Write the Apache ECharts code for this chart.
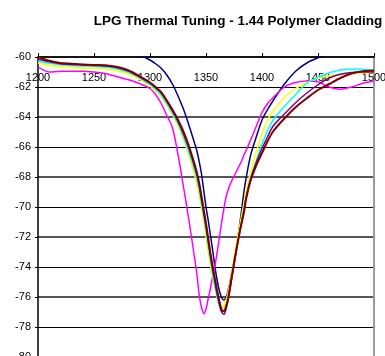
<!DOCTYPE html>
<html>
<head>
<meta charset="utf-8">
<script src="https://cdn.jsdelivr.net/npm/echarts@6/dist/echarts.min.js"></script>
<style>
html,body{margin:0;padding:0;background:#fff;}
#c{width:385px;height:356px;}
</style>
</head>
<body>
<div id="c"></div>
<script>
const title = "LPG Thermal Tuning - 1.44 Polymer Cladding";
const wavelengths = [1200,1210,1220,1230,1240,1250,1260,1270,1280,1290,1300,1305,1310,1315,1320,1325,1330,1335,1340,1342,1344,1346,1348,1350,1352,1354,1356,1358,1360,1362,1364,1366,1368,1370,1372,1374,1376,1378,1380,1382,1384,1386,1390,1395,1400,1405,1410,1420,1430,1440,1450,1460,1470,1480,1490,1500];
const yTicks = [-80,-78,-76,-74,-72,-70,-68,-66,-64,-62,-60];
const xTicks = [1200,1250,1300,1350,1400,1450,1500];

const blue = [-58.0,-58.2,-58.4,-58.6,-58.8,-59.0,-59.2,-59.4,-59.6,-59.85,-60.2,-60.45,-60.75,-61.2,-61.8,-62.6,-63.5,-64.6,-65.8,-66.3,-67.0,-67.8,-68.9,-70.0,-70.9,-71.9,-72.9,-74.0,-74.9,-75.6,-76.05,-76.2,-76.0,-75.5,-74.8,-74.1,-73.3,-72.3,-71.2,-70.1,-68.9,-68.0,-66.5,-65.3,-64.2,-63.5,-62.9,-61.8,-60.95,-60.4,-60.05,-59.8,-59.6,-59.4,-59.3,-59.2];
const magenta = [-60.65,-61.0,-60.95,-60.95,-60.95,-61.0,-61.1,-61.3,-61.5,-61.75,-62.1,-62.5,-63.1,-63.9,-64.7,-66.5,-68.7,-71.0,-73.5,-74.6,-75.9,-76.7,-77.1,-76.8,-76.1,-75.4,-74.6,-73.9,-73.0,-72.0,-71.0,-70.1,-69.3,-68.8,-68.4,-68.1,-67.8,-67.5,-67.2,-66.9,-66.5,-66.2,-65.5,-64.6,-63.7,-63.1,-62.7,-62.0,-61.7,-61.6,-61.65,-62.0,-62.15,-62.0,-61.75,-61.6];
const yellow = [-60.4,-60.55,-60.65,-60.7,-60.75,-60.73,-60.8,-60.9,-61.1,-61.45,-61.95,-62.25,-62.65,-63.2,-63.85,-64.6,-65.5,-66.6,-67.9,-68.5,-69.2,-70.1,-71.0,-72.0,-73.0,-73.9,-74.7,-75.4,-76.0,-76.5,-76.7,-76.6,-76.2,-75.6,-74.8,-73.9,-73.0,-72.1,-71.3,-70.5,-69.7,-68.9,-67.6,-66.3,-65.1,-64.2,-63.6,-62.7,-62.1,-61.7,-61.4,-61.25,-61.15,-61.1,-61.05,-61.05];
const cyan = [-60.27,-60.42,-60.52,-60.57,-60.6,-60.62,-60.68,-60.78,-61.0,-61.35,-61.85,-62.15,-62.55,-63.1,-63.75,-64.45,-65.35,-66.4,-67.6,-68.2,-68.9,-69.8,-70.7,-71.6,-72.6,-73.6,-74.5,-75.3,-76.0,-76.6,-77.05,-77.15,-76.8,-76.1,-75.2,-74.3,-73.4,-72.5,-71.7,-70.9,-70.1,-69.3,-68.0,-66.9,-65.8,-64.9,-64.2,-63.3,-62.5,-61.75,-61.35,-61.05,-60.87,-60.8,-60.82,-60.9];
const purple = [-60.15,-60.32,-60.45,-60.5,-60.53,-60.56,-60.6,-60.7,-60.92,-61.3,-61.75,-62.05,-62.4,-62.95,-63.6,-64.3,-65.15,-66.15,-67.35,-67.9,-68.6,-69.5,-70.4,-71.3,-72.3,-73.3,-74.2,-75.0,-75.8,-76.5,-77.0,-77.15,-76.75,-76.1,-75.2,-74.3,-73.4,-72.5,-71.7,-70.95,-70.2,-69.3,-68.1,-67.0,-66.1,-65.3,-64.6,-63.8,-63.05,-62.4,-61.85,-61.4,-61.15,-61.03,-61.0,-61.0];
const maroon = [-60.0,-60.25,-60.4,-60.45,-60.5,-60.53,-60.55,-60.65,-60.87,-61.25,-61.7,-62.0,-62.35,-62.9,-63.5,-64.2,-65.0,-66.0,-67.2,-67.75,-68.45,-69.3,-70.2,-71.1,-72.1,-73.1,-74.0,-74.8,-75.6,-76.3,-76.85,-76.95,-76.6,-76.0,-75.1,-74.2,-73.3,-72.5,-71.7,-71.0,-70.3,-69.4,-68.2,-67.2,-66.4,-65.6,-64.95,-64.1,-63.35,-62.75,-62.2,-61.8,-61.4,-61.1,-60.95,-60.9];

const seriesDefs = [
  {name:'s1', data: blue, color:'#000080', w:1.5},
  {name:'s2', data: magenta, color:'#FF00FF', w:1.5},
  {name:'s3', data: yellow, color:'#FFFF00', w:1.5},
  {name:'s4', data: cyan, color:'#00FFFF', w:1.5},
  {name:'s5', data: purple, color:'#800080', w:1.5},
  {name:'s6', data: maroon, color:'#800000', w:2}
];

const chart = echarts.init(document.getElementById('c'), null, {renderer:'canvas'});
chart.setOption({
  animation: false,
  backgroundColor: '#fff',
  title: {
    text: title, left: 233, top: 9, textAlign: 'center',
    textStyle: {fontFamily: 'Liberation Sans, Arial', fontSize: 13.5, fontWeight: 'bold', color: '#000'}
  },
  grid: {left: 38, top: 57, width: 336, height: 300, containLabel: false, outerBoundsMode: 'none'},
  xAxis: {
    type: 'value', position: 'top',
    min: xTicks[0], max: xTicks[xTicks.length-1], interval: 50,
    axisLine: {show: true, onZero: false, lineStyle: {color: '#000', width: 1.5}},
    axisTick: {show: true, inside: false, length: 4, lineStyle: {color: '#000', width: 1}},
    axisLabel: {show: true, inside: true, margin: 15, color: '#000', fontFamily: 'Liberation Sans, Arial', fontSize: 11,
      formatter: v => String(v)},
    splitLine: {show: false}
  },
  yAxis: [{
    type: 'value', position: 'left',
    min: yTicks[0], max: yTicks[yTicks.length-1], interval: 2,
    axisLine: {show: true, onZero: false, lineStyle: {color: '#000', width: 1.5}},
    axisTick: {show: true, length: 3, lineStyle: {color: '#000'}},
    axisLabel: {margin: 7, color: '#000', fontFamily: 'Liberation Sans, Arial', fontSize: 11, formatter: v => String(v)},
    splitLine: {show: true, lineStyle: {color: '#000', width: 1}}
  }, {
    type: 'value', position: 'right',
    min: yTicks[0], max: yTicks[yTicks.length-1], interval: 4,
    axisLine: {show: true, onZero: false, lineStyle: {color: '#999', width: 2}},
    axisTick: {show: false},
    axisLabel: {show: false},
    splitLine: {show: true, lineStyle: {color: '#555', width: 2}}
  }],
  series: seriesDefs.map(s => ({
    name: s.name, type: 'line', yAxisIndex: 0,
    data: wavelengths.map((w, i) => [w, s.data[i]]),
    showSymbol: false, smooth: 0.3, clip: true,
    lineStyle: {color: s.color, width: s.w},
    itemStyle: {color: s.color}
  }))
});
</script>
</body>
</html>
